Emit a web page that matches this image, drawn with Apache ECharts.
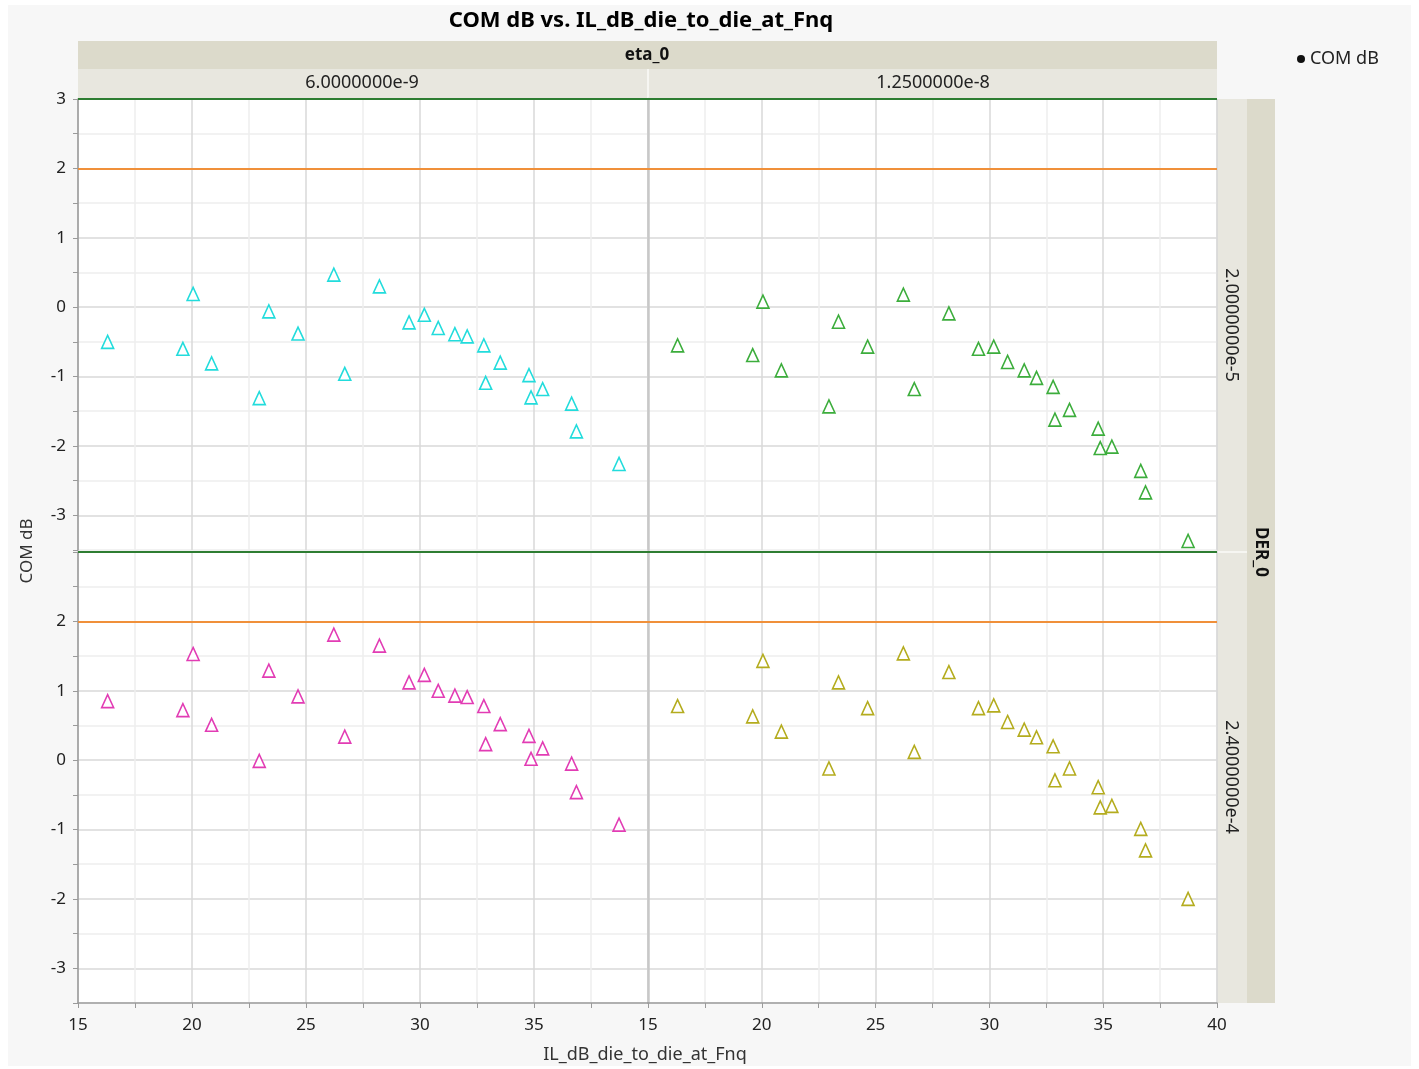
<!DOCTYPE html>
<html>
	<head>
		<meta charset="utf-8">
		<title>COM dB vs. IL_dB_die_to_die_at_Fnq</title>
		<style>
			html, body { margin: 0; padding: 0; background: #ffffff; }
		</style>
	</head>
	<body>
		<!-- chart area -->
		<div id="container" style="width: 1419px;height:1069px;"></div>
	</body>
	<script src="https://cdn.jsdelivr.net/npm/echarts@6/dist/echarts.min.js"></script>
	<script type="text/javascript">
		'use strict'
		// x values, shared by all four panels
		var ilDb = [16.3, 19.6, 20.05, 20.86, 22.95, 23.37, 24.65, 26.22, 26.7, 28.22, 29.52, 30.19,
			30.8, 31.53, 32.07, 32.8, 32.88, 33.52, 34.78, 34.87, 35.38, 36.65, 36.86, 38.73];
		// COM dB, one list per panel
		var comEta1Der1 = [-0.50, -0.60, 0.19, -0.81, -1.31, -0.06, -0.38, 0.47, -0.96, 0.30, -0.22, -0.11,
			-0.30, -0.39, -0.42, -0.55, -1.09, -0.80, -0.98, -1.30, -1.18, -1.39, -1.79, -2.26];
		var comEta2Der1 = [-0.55, -0.69, 0.08, -0.91, -1.43, -0.21, -0.57, 0.18, -1.18, -0.09, -0.60, -0.57,
			-0.79, -0.91, -1.02, -1.15, -1.62, -1.48, -1.75, -2.03, -2.01, -2.36, -2.67, -3.37];
		var comEta1Der2 = [0.85, 0.72, 1.53, 0.51, -0.01, 1.29, 0.92, 1.81, 0.34, 1.65, 1.12, 1.23,
			1.00, 0.93, 0.91, 0.78, 0.23, 0.52, 0.35, 0.02, 0.17, -0.05, -0.46, -0.93];
		var comEta2Der2 = [0.78, 0.63, 1.43, 0.41, -0.12, 1.12, 0.75, 1.54, 0.12, 1.27, 0.75, 0.79,
			0.55, 0.44, 0.33, 0.20, -0.29, -0.12, -0.39, -0.68, -0.66, -0.99, -1.30, -2.00];
		// group levels
		var etaLevels = ['6.0000000e-9', '1.2500000e-8'];
		var derLevels = ['2.0000000e-5', '2.4000000e-4'];
		// reference lines
		var upperLimit = 3;
		var lowerLimit = 2;

		var font = 'Noto Sans';
		var myCharts = echarts.init(document.getElementById('container'));

		// panel layout: row = DER_0, col = eta_0
		var panels = [
			{ row: 0, col: 0, values: comEta1Der1, color: '#22dcdc' },
			{ row: 0, col: 1, values: comEta2Der1, color: '#3cad3c' },
			{ row: 1, col: 0, values: comEta1Der2, color: '#e23cb4' },
			{ row: 1, col: 1, values: comEta2Der2, color: '#b4ac1e' }
		];
		var colLeft = [78, 648];
		var colWidth = [570, 569];
		var rowTop = [99, 552];
		var rowHeight = [451, 451];

		var grids = [], xAxes = [], yAxes = [], series = [];
		panels.forEach(function (p, i) {
			var bottom = p.row === 1;
			var left = p.col === 0;
			grids.push({
				left: colLeft[p.col], top: rowTop[p.row],
				width: colWidth[p.col], height: rowHeight[p.row],
				show: true, backgroundColor: '#ffffff', borderWidth: 0
			});
			xAxes.push({
				type: 'value', gridIndex: i, min: 15, max: 40, interval: 2.5,
				axisLine: { show: bottom, onZero: false, lineStyle: { color: '#9a9a9a', width: 1.5 } },
				axisTick: { show: bottom, length: 5, lineStyle: { color: '#9a9a9a' } },
				axisLabel: {
					show: bottom, margin: 14, fontSize: 17, color: '#222', fontFamily: font,
					formatter: function (v) {
						if (v % 5 !== 0) return '';
						if (left && v === 40) return '';
						return v;
					}
				},
				splitLine: { show: true, lineStyle: { color: ['#d8d8d8', '#eeeeee'], width: 1.5 } }
			});
			yAxes.push({
				type: 'value', gridIndex: i, min: -3.5, max: 3, interval: 0.5,
				axisLine: { show: true, onZero: false, lineStyle: { color: left ? '#9a9a9a' : '#c8c8c8', width: left ? 1.5 : 2.5 } },
				axisTick: { show: left, length: 5, lineStyle: { color: '#9a9a9a' } },
				axisLabel: {
					show: left, margin: 12, fontSize: 17, color: '#222', fontFamily: font,
					formatter: function (v) {
						if (v % 1 !== 0) return '';
						if (bottom && v === 3) return '';
						return v;
					}
				},
				splitLine: { show: true, lineStyle: { color: ['#eeeeee', '#d8d8d8'], width: 1.5 } }
			});
			series.push({
				name: 'COM dB',
				type: 'scatter',
				xAxisIndex: i, yAxisIndex: i,
				symbol: 'triangle', symbolSize: [12, 13],
				itemStyle: { color: '#ffffff', borderColor: p.color, borderWidth: 1.6, opacity: 1 },
				data: ilDb.map(function (x, k) { return [x, p.values[k]]; }),
				markLine: {
					silent: true, symbol: 'none', animation: false,
					label: { show: false },
					data: [
						{ yAxis: upperLimit, lineStyle: { color: '#2e7d32', width: 2, type: 'solid' } },
						{ yAxis: lowerLimit, lineStyle: { color: '#f0903a', width: 2, type: 'solid' } }
					]
				},
				z: 3
			});
		});

		var option = {
			backgroundColor: '#ffffff',
			animation: false,
			grid: grids,
			xAxis: xAxes,
			yAxis: yAxes,
			series: series,
			legend: {
				left: 1292, top: 45, icon: 'circle', itemWidth: 8, itemHeight: 8, itemGap: 8,
				data: [{ name: 'COM dB', itemStyle: { color: '#111', borderWidth: 0 } }],
				textStyle: { fontSize: 18, color: '#222', fontFamily: font },
				selectedMode: false
			},
			graphic: [
				// page panel
				{ type: 'rect', z: -10, shape: { x: 8, y: 5, width: 1403, height: 1061 }, style: { fill: '#f7f7f7' } },
				// title
				{ type: 'text', style: { text: 'COM dB vs. IL_dB_die_to_die_at_Fnq', x: 641, y: 21, align: 'center', verticalAlign: 'middle', font: 'bold 22px "Noto Sans"', fill: '#000' } },
				// eta_0 header
				{ type: 'rect', shape: { x: 78, y: 41, width: 1139, height: 28 }, style: { fill: '#dcdacb' } },
				{ type: 'text', style: { text: 'eta_0', x: 647, y: 55, align: 'center', verticalAlign: 'middle', font: 'bold 17px "Noto Sans"', fill: '#111' } },
				{ type: 'rect', shape: { x: 78, y: 69, width: 1139, height: 29 }, style: { fill: '#e8e7df' } },
				{ type: 'line', shape: { x1: 648, y1: 69, x2: 648, y2: 98 }, style: { stroke: '#f6f6f2', lineWidth: 2 } },
				{ type: 'text', style: { text: etaLevels[0], x: 362, y: 83, align: 'center', verticalAlign: 'middle', font: '18px "Noto Sans"', fill: '#222' } },
				{ type: 'text', style: { text: etaLevels[1], x: 933, y: 83, align: 'center', verticalAlign: 'middle', font: '18px "Noto Sans"', fill: '#222' } },
				// DER_0 strips
				{ type: 'rect', shape: { x: 1217, y: 99, width: 30, height: 904 }, style: { fill: '#e8e7df' } },
				{ type: 'line', shape: { x1: 1217, y1: 552, x2: 1247, y2: 552 }, style: { stroke: '#f6f6f2', lineWidth: 2 } },
				{ type: 'rect', shape: { x: 1247, y: 99, width: 28, height: 904 }, style: { fill: '#dcdacb' } },
				{ type: 'line', shape: { x1: 1217, y1: 99, x2: 1217, y2: 1003 }, style: { stroke: '#d4d4d4', lineWidth: 1 } },
				{ type: 'text', x: 1231, y: 325, rotation: -Math.PI / 2, style: { text: derLevels[0], x: 0, y: 0, align: 'center', verticalAlign: 'middle', font: '18px "Noto Sans"', fill: '#222' } },
				{ type: 'text', x: 1231, y: 777, rotation: -Math.PI / 2, style: { text: derLevels[1], x: 0, y: 0, align: 'center', verticalAlign: 'middle', font: '18px "Noto Sans"', fill: '#222' } },
				{ type: 'text', x: 1261, y: 552, rotation: -Math.PI / 2, style: { text: 'DER_0', x: 0, y: 0, align: 'center', verticalAlign: 'middle', font: 'bold 17px "Noto Sans"', fill: '#111' } },
				// axis names
				{ type: 'text', x: 27, y: 551, rotation: Math.PI / 2, style: { text: 'COM dB', x: 0, y: 0, align: 'center', verticalAlign: 'middle', font: '17px "Noto Sans"', fill: '#333' } },
				{ type: 'text', style: { text: 'IL_dB_die_to_die_at_Fnq', x: 645, y: 1055, align: 'center', verticalAlign: 'middle', font: '18px "Noto Sans"', fill: '#333' } }
			]
		};
		myCharts.setOption(option);
	</script>
</html>
